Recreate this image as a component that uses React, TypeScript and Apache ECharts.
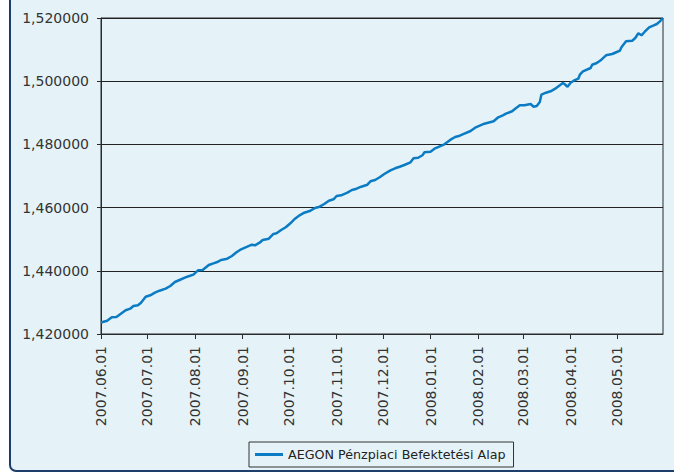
import React, { useEffect, useRef } from "react";
import * as echarts from "echarts";

const startDate = "2007-06-01";
const dayCount = 366;
const seriesName = "AEGON Pénzpiaci Befektetési Alap";
const yTicks = [1.42, 1.44, 1.46, 1.48, 1.5, 1.52];

// [day offset from 2007.06.01, net asset value]
const navPoints: [number, number][] = [
  [0, 1.42364], [4, 1.42421], [7, 1.42528], [10, 1.42538], [12, 1.42611], [16, 1.4275],
  [19, 1.42801], [21, 1.42886], [24, 1.42908], [26, 1.42991], [29, 1.4318], [32, 1.43225],
  [35, 1.43307], [38, 1.4337], [42, 1.43434], [45, 1.43519], [48, 1.43646], [51, 1.43709],
  [56, 1.43813], [60, 1.43877], [63, 1.44016], [66, 1.44025], [70, 1.44184], [73, 1.44237],
  [76, 1.44288], [78, 1.44342], [82, 1.44383], [85, 1.44468], [88, 1.44585], [91, 1.4468],
  [95, 1.44763], [98, 1.44826], [100, 1.44807], [103, 1.44889], [105, 1.44975], [109, 1.45016],
  [112, 1.45165], [114, 1.45187], [117, 1.45291], [120, 1.45377], [123, 1.45503], [126, 1.45649],
  [129, 1.45756], [132, 1.45839], [136, 1.45902], [139, 1.45987], [142, 1.46029], [145, 1.46114],
  [148, 1.46218], [151, 1.46263], [153, 1.46367], [156, 1.46389], [160, 1.46472], [163, 1.46557],
  [166, 1.46598], [169, 1.46661], [173, 1.46725], [175, 1.46832], [178, 1.46873], [181, 1.46959],
  [184, 1.47063], [188, 1.4718], [191, 1.47244], [194, 1.47294], [197, 1.47348], [201, 1.47434],
  [203, 1.4756], [206, 1.47579], [209, 1.47665], [210, 1.4775], [214, 1.47769], [217, 1.47877],
  [220, 1.4794], [223, 1.48003], [227, 1.48149], [230, 1.48234], [233, 1.48275], [236, 1.48339],
  [240, 1.48424], [243, 1.48529], [246, 1.48592], [249, 1.48655], [255, 1.48731], [258, 1.48858],
  [261, 1.48921], [263, 1.48972], [267, 1.49048], [269, 1.4913], [272, 1.49237], [275, 1.49237],
  [279, 1.49279], [281, 1.49193], [283, 1.49215], [285, 1.49342], [286, 1.49573], [289, 1.49636],
  [292, 1.4968], [295, 1.49763], [298, 1.4987], [300, 1.49943], [301, 1.49912], [303, 1.49826],
  [305, 1.49953], [307, 1.50016], [310, 1.50079], [311, 1.50206], [313, 1.50313], [318, 1.50418],
  [319, 1.50522], [322, 1.50576], [325, 1.5068], [328, 1.5082], [332, 1.50861], [335, 1.50924],
  [337, 1.50965], [338, 1.51073], [341, 1.51263], [345, 1.51282], [347, 1.51367], [349, 1.51516],
  [351, 1.51453], [353, 1.51557], [356, 1.51706], [359, 1.51769], [361, 1.5181], [363, 1.51895],
  [365, 1.52],
];

function buildCategories(): string[] {
  const out: string[] = [];
  const d = new Date(startDate + "T12:00:00Z");
  for (let i = 0; i < dayCount; i++) {
    const y = d.getUTCFullYear();
    const m = String(d.getUTCMonth() + 1).padStart(2, "0");
    const day = String(d.getUTCDate()).padStart(2, "0");
    out.push(`${y}.${m}.${day}`);
    d.setUTCDate(d.getUTCDate() + 1);
  }
  return out;
}

export default function App() {
  const ref = useRef<HTMLDivElement>(null);
  useEffect(() => {
    if (!ref.current) return;
    const chart = echarts.init(ref.current, null, { renderer: "svg" });
    const categories = buildCategories();
    const isMonthStart = (_i: number, v: string) => v.endsWith(".01");
    const font = "DejaVu Sans";
    chart.setOption({
      animation: false,
      backgroundColor: "#ffffff",
      graphic: [
        {
          type: "rect",
          z: -10,
          silent: true,
          shape: { x: 10, y: -20, width: 700, height: 491, r: 6 },
          style: { fill: "#e5f3f9", stroke: "#1d3d6b", lineWidth: 2 },
        },
      ],
      grid: {
        left: 101,
        top: 18,
        right: 11,
        bottom: 139,
        show: true,
        borderColor: "#2a2a2a",
        borderWidth: 1,
        backgroundColor: "transparent",
      },
      legend: {
        left: 249,
        top: 442,
        padding: [6, 8, 6, 6],
        borderColor: "#333333",
        borderWidth: 1,
        backgroundColor: "#e5f3f9",
        icon: "rect",
        itemWidth: 28,
        itemHeight: 3,
        itemGap: 4,
        textStyle: { fontFamily: font, fontSize: 12.7, color: "#222222" },
        data: [seriesName],
      },
      xAxis: {
        type: "category",
        data: categories,
        boundaryGap: false,
        axisLine: { lineStyle: { color: "#2a2a2a", width: 1 } },
        axisTick: { interval: isMonthStart, length: 5, lineStyle: { color: "#2a2a2a" } },
        axisLabel: {
          interval: isMonthStart,
          rotate: 90,
          margin: 12,
          fontFamily: font,
          fontSize: 14,
          color: "#333333",
        },
        splitLine: { show: false },
      },
      yAxis: {
        type: "value",
        min: yTicks[0],
        max: yTicks[yTicks.length - 1],
        interval: 0.02,
        axisLine: { show: true, lineStyle: { color: "#2a2a2a", width: 1 } },
        axisTick: { show: true, length: 4, lineStyle: { color: "#2a2a2a" } },
        axisLabel: {
          margin: 12,
          fontFamily: font,
          fontSize: 14,
          color: "#333333",
          formatter: (v: number) => v.toFixed(6).replace(".", ","),
        },
        splitLine: { lineStyle: { color: "#222222", width: 1 } },
      },
      series: [
        {
          name: seriesName,
          type: "line",
          symbol: "none",
          data: navPoints.map(([d, v]) => [categories[d], v]),
          lineStyle: { color: "#0b7cc4", width: 2.5 },
          itemStyle: { color: "#0b7cc4" },
        },
      ],
    });
    return () => chart.dispose();
  }, []);
  return (
    <div
      ref={ref}
      style={{ position: "fixed", left: 0, top: 0, width: 674, height: 473 }}
    />
  );
}
